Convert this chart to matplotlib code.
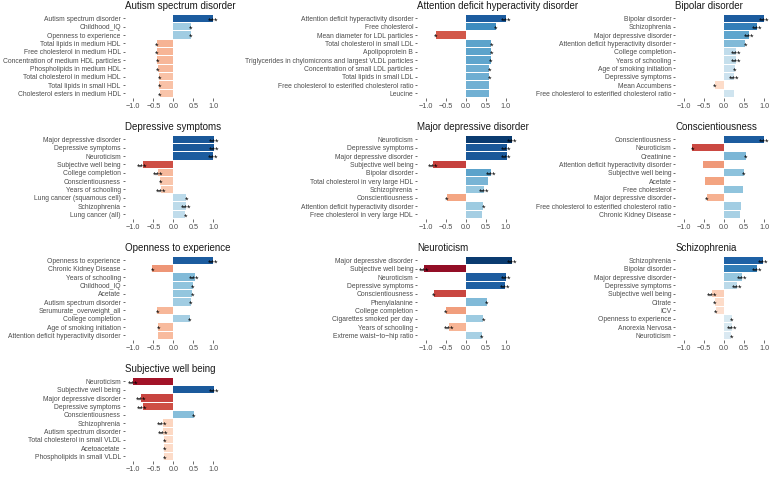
import numpy as np
import matplotlib.pyplot as plt
from matplotlib.colors import LinearSegmentedColormap, Normalize

plt.rcParams['font.family'] = ['Liberation Sans', 'DejaVu Sans']

# ---- data: genetic correlations, one block per panel ----
asd_title = 'Autism spectrum disorder'
asd_traits = ['Autism spectrum disorder', 'Childhood_IQ', 'Openness to experience',
              'Total lipids in medium HDL', 'Free cholesterol in medium HDL',
              'Concentration of medium HDL particles', 'Phospholipids in medium HDL',
              'Total cholesterol in medium HDL', 'Total lipids in small HDL',
              'Cholesterol esters in medium HDL']
asd_rg = [1.0, 0.43, 0.43, -0.42, -0.41, -0.40, -0.39, -0.35, -0.35, -0.34]
asd_sig = ['***', '*', '*', '*', '*', '*', '*', '*', '*', '*']

adhd_title = 'Attention deficit hyperactivity disorder'
adhd_traits = ['Attention deficit hyperactivity disorder', 'Free cholesterol',
               'Mean diameter for LDL particles', 'Total cholesterol in small LDL',
               'Apolipoprotein B', 'Triglycerides in chylomicrons and largest VLDL particles',
               'Concentration of small LDL particles', 'Total lipids in small LDL',
               'Free cholesterol to esterified cholesterol ratio', 'Leucine']
adhd_rg = [1.0, 0.75, -0.75, 0.64, 0.64, 0.63, 0.59, 0.59, 0.58, 0.58]
adhd_sig = ['***', '*', '*', '*', '*', '*', '*', '*', '', '']

bip_title = 'Bipolar disorder'
bip_traits = ['Bipolar disorder', 'Schizophrenia', 'Major depressive disorder',
              'Attention deficit hyperactivity disorder', 'College completion',
              'Years of schooling', 'Age of smoking initiation', 'Depressive symptoms',
              'Mean Accumbens', 'Free cholesterol to esterified cholesterol ratio']
bip_rg = [1.0, 0.83, 0.63, 0.53, 0.30, 0.29, 0.27, 0.26, -0.23, 0.25]
bip_sig = ['***', '***', '***', '*', '***', '***', '*', '***', '*', '']

dep_title = 'Depressive symptoms'
dep_traits = ['Major depressive disorder', 'Depressive symptoms', 'Neuroticism',
              'Subjective well being', 'College completion', 'Conscientiousness',
              'Years of schooling', 'Lung cancer (squamous cell)', 'Schizophrenia',
              'Lung cancer (all)']
dep_rg = [1.02, 1.02, 1.0, -0.77, -0.39, -0.33, -0.31, 0.32, 0.31, 0.30]
dep_sig = ['***', '***', '***', '***', '***', '*', '***', '*', '***', '*']

mdd_title = 'Major depressive disorder'
mdd_traits = ['Neuroticism', 'Depressive symptoms', 'Major depressive disorder',
              'Subjective well being', 'Bipolar disorder',
              'Total cholesterol in very large HDL', 'Schizophrenia', 'Conscientiousness',
              'Attention deficit hyperactivity disorder', 'Free cholesterol in very large HDL']
mdd_rg = [1.15, 1.02, 1.02, -0.82, 0.64, 0.56, 0.46, -0.47, 0.44, 0.41]
mdd_sig = ['***', '***', '***', '***', '***', '', '***', '*', '*', '']

con_title = 'Conscientiousness'
con_traits = ['Conscientiousness', 'Neuroticism', 'Creatinine',
              'Attention deficit hyperactivity disorder', 'Subjective well being', 'Acetate',
              'Free cholesterol', 'Major depressive disorder',
              'Free cholesterol to esterified cholesterol ratio', 'Chronic Kidney Disease']
con_rg = [1.0, -0.79, 0.55, -0.52, 0.49, -0.48, 0.48, -0.43, 0.42, 0.40]
con_sig = ['***', '*', '*', '', '*', '', '', '*', '', '']

ope_title = 'Openness to experience'
ope_traits = ['Openness to experience', 'Chronic Kidney Disease', 'Years of schooling',
              'Childhood_IQ', 'Acetate', 'Autism spectrum disorder',
              'Serumurate_overweight_all', 'College completion', 'Age of smoking initiation',
              'Attention deficit hyperactivity disorder']
ope_rg = [1.0, -0.53, 0.53, 0.48, 0.47, 0.43, -0.40, 0.41, -0.38, -0.38]
ope_sig = ['***', '*', '***', '*', '*', '*', '*', '*', '*', '']

neu_title = 'Neuroticism'
neu_traits = ['Major depressive disorder', 'Subjective well being', 'Neuroticism',
              'Depressive symptoms', 'Conscientiousness', 'Phenylalanine',
              'College completion', 'Cigarettes smoked per day', 'Years of schooling',
              'Extreme waist\u2212to\u2212hip ratio']
neu_rg = [1.15, -1.05, 1.0, 0.99, -0.80, 0.53, -0.50, 0.44, -0.41, 0.40]
neu_sig = ['***', '***', '***', '***', '*', '*', '*', '*', '***', '*']

scz_title = 'Schizophrenia'
scz_traits = ['Schizophrenia', 'Bipolar disorder', 'Major depressive disorder',
              'Depressive symptoms', 'Subjective well being', 'Citrate', 'ICV',
              'Openness to experience', 'Anorexia Nervosa', 'Neuroticism']
scz_rg = [0.98, 0.83, 0.46, 0.32, -0.30, -0.23, -0.20, 0.19, 0.19, 0.18]
scz_sig = ['***', '***', '***', '***', '***', '*', '*', '*', '***', '*']

swb_title = 'Subjective well being'
swb_traits = ['Neuroticism', 'Subjective well being', 'Major depressive disorder',
              'Depressive symptoms', 'Conscientiousness', 'Schizophrenia',
              'Autism spectrum disorder', 'Total cholesterol in small VLDL',
              'Acetoacetate', 'Phospholipids in small VLDL']
swb_rg = [-1.01, 1.01, -0.81, -0.77, 0.51, -0.27, -0.25, -0.23, -0.23, -0.23]
swb_sig = ['***', '***', '***', '***', '*', '***', '***', '*', '*', '*']

panels = [
    (asd_title, asd_traits, asd_rg, asd_sig),
    (adhd_title, adhd_traits, adhd_rg, adhd_sig),
    (bip_title, bip_traits, bip_rg, bip_sig),
    (dep_title, dep_traits, dep_rg, dep_sig),
    (mdd_title, mdd_traits, mdd_rg, mdd_sig),
    (con_title, con_traits, con_rg, con_sig),
    (ope_title, ope_traits, ope_rg, ope_sig),
    (neu_title, neu_traits, neu_rg, neu_sig),
    (scz_title, scz_traits, scz_rg, scz_sig),
    (swb_title, swb_traits, swb_rg, swb_sig),
]

# RdBu (11 class) diverging fill
rdbu = ['#67001f', '#b2182b', '#d6604d', '#f4a582', '#fddbc7', '#f7f7f7',
        '#d1e5f0', '#92c5de', '#4393c3', '#2166ac', '#053061']
cmap = LinearSegmentedColormap.from_list('rdbu', rdbu)
norm = Normalize(-1.2, 1.2)

W, H = 769, 479
fig = plt.figure(figsize=(W / 100, H / 100), dpi=100)

XMIN, XMAX = -1.22, 1.15
zero_x = [173.3, 465.7, 724]   # pixel position of 0.0 in each column
unit = 40.0                    # pixels per unit of rg
row_top = 13.4
row_step = 121
panel_h = 85

for i, (title, traits, rg, sig) in enumerate(panels):
    r, c = divmod(i, 3)
    left = zero_x[c] + XMIN * unit
    width = (XMAX - XMIN) * unit
    top = row_top + r * row_step
    ax = fig.add_axes([left / W, 1 - (top + panel_h) / H, width / W, panel_h / H])
    y = np.arange(len(traits))
    ax.barh(y, rg, height=0.9, color=cmap(norm(np.array(rg))))
    for yy, v, s in zip(y, rg, sig):
        if s:
            ax.text(v, yy + 0.3, s, ha='center', va='center', fontsize=6.5,
                    color='black', clip_on=False)
    ax.set_xlim(XMIN, XMAX)
    ax.set_ylim(len(traits) - 0.4, -0.6)
    ax.set_yticks(y)
    ax.set_yticklabels(traits)
    ax.set_xticks([-1.0, -0.5, 0.0, 0.5, 1.0])
    ax.set_xticklabels(['\u22121.0', '\u22120.5', '0.0', '0.5', '1.0'])
    ax.tick_params(axis='y', labelsize=4.9, length=1.5, pad=1.2)
    ax.tick_params(axis='x', labelsize=5.2, length=2, pad=1.5)
    ax.tick_params(axis='both', labelcolor='#4d4d4d', color='#333333', width=0.5)
    for sp in ax.spines.values():
        sp.set_visible(False)
    ax.set_title(title, loc='left', fontsize=7, color='#1a1a1a', pad=3)

fig.savefig('out.png', dpi=100)
